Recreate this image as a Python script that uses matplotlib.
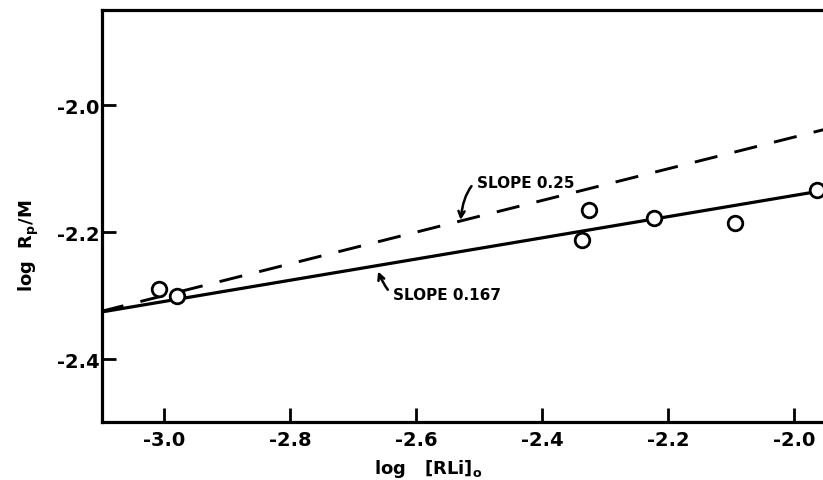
import matplotlib
matplotlib.use("Agg")
import matplotlib.pyplot as plt

#-------------------------------------------------------------------------------------------------
# %% DATA SECTION
# Values.

log_rli = [-3.008, -2.979, -2.336, -2.325, -2.222, -2.094, -1.963]     # log [RLi]o
log_rp  = [-2.290, -2.301, -2.212, -2.166, -2.178, -2.186, -2.134]     # log Rp/M

fit_x      = [-3.10, -1.95]
solid_y    = [-2.326, -2.134]      # slope 0.167
dashed_y   = [-2.325, -2.038]      # slope 0.25

x_ticks = [-3.0, -2.8, -2.6, -2.4, -2.2, -2.0]
y_ticks = [-2.0, -2.2, -2.4]

#-------------------------------------------------------------------------------------------------
# %% PLOT SECTION

plt.rcParams['font.family'] = ['DejaVu Sans']
plt.rcParams['font.weight'] = 'bold'
plt.rcParams['mathtext.fontset'] = 'dejavusans'
plt.rcParams['mathtext.default'] = 'bf'

fig = plt.figure(figsize=(8.23, 4.81), dpi=100)
ax = fig.add_axes([0.124, 0.1206, 0.876, 0.857])

ax.plot(fit_x, solid_y, color='black', lw=2.3, solid_capstyle='butt', zorder=2)
ax.plot(fit_x, dashed_y, color='black', lw=2.1, dashes=(8, 6), zorder=2)
ax.plot(log_rli, log_rp, 'o', ms=10.5, mfc='white', mec='black', mew=2.0,
        clip_on=False, zorder=3)

ax.annotate('SLOPE 0.25', xy=(-2.529, -2.181), xytext=(-2.503, -2.122),
            fontsize=11, fontweight='bold', ha='left', va='center',
            arrowprops=dict(arrowstyle='->', color='black', lw=1.8,
                            connectionstyle='arc3,rad=0.7', shrinkA=3, shrinkB=0))
ax.annotate('SLOPE 0.167', xy=(-2.660, -2.262), xytext=(-2.636, -2.298),
            fontsize=11, fontweight='bold', ha='left', va='center',
            arrowprops=dict(arrowstyle='->', color='black', lw=1.8,
                            connectionstyle='arc3,rad=-0.6', shrinkA=3, shrinkB=0))

ax.set_xlim(-3.098, -1.954)
ax.set_ylim(-2.499, -1.85)
ax.set_xticks(x_ticks)
ax.set_xticklabels(['%.1f' % t for t in x_ticks])
ax.set_yticks(y_ticks)
ax.set_yticklabels(['%.1f' % t for t in y_ticks])
ax.tick_params(direction='in', length=10, width=2, labelsize=14, pad=6)
ax.tick_params(axis='y', pad=2)

for side in ['left', 'bottom', 'top']:
    ax.spines[side].set_linewidth(2.3)
ax.spines['right'].set_visible(False)

ax.set_xlabel(r'log   $[RLi]_o$', fontsize=13, fontweight='bold')
ax.xaxis.set_label_coords(0.452, -0.085)
ax.set_ylabel(r'log  $R_p/M$', fontsize=13, fontweight='bold')
ax.yaxis.set_label_coords(-0.085, 0.43)

fig.savefig('out.png', dpi=100)
